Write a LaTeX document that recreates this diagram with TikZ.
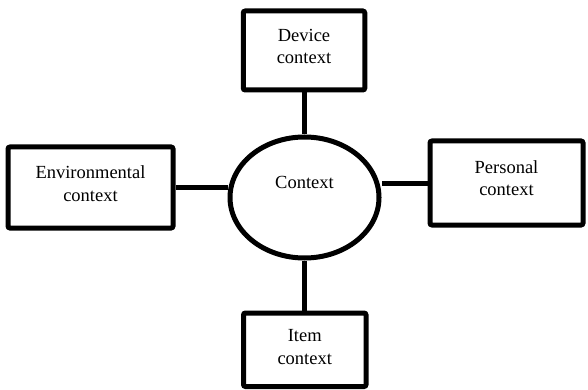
\documentclass[tikz,border=0pt]{standalone}
\usepackage{fontspec}
\setmainfont{Liberation Serif}
\usepackage{tikz}
\usetikzlibrary{positioning, calc, shapes.geometric}

\begin{document}
\begin{tikzpicture}[
    x=1pt, y=-1pt,
    ctxbox/.style={draw, line width=5pt, rounded corners=2pt, align=center,
                   inner sep=0pt, text depth=8pt, font=\fontsize{18.5}{22.5}\selectfont},
    ctxoval/.style={draw, ellipse, line width=5pt, inner sep=0pt,
                    minimum width=149pt, minimum height=121pt},
    link/.style={line width=5pt},
    mylabel/.style={font=\fontsize{18.5}{22.5}\selectfont},
  ]
    \useasboundingbox (0,0) rectangle (588,390);

    % Centre
    \node[ctxoval] (ctx) at (304.5,197.5) {};
    \node[mylabel] (ctxtext) at (304.5,182.5) {Context};

    % Boxes
    \node[ctxbox, minimum width=121.5pt, minimum height=79pt] (dev) at (304,50.5) {Device\\context};
    \node[ctxbox, minimum width=165pt, minimum height=81pt] (env) at (90.5,187.5) {Environmental\\context};
    \node[ctxbox, minimum width=153pt, minimum height=84pt, text depth=10pt] (pers) at (506.5,183) {Personal\\context};
    \node[ctxbox, minimum width=122.5pt, minimum height=73.5pt, text depth=6pt] (item) at (304.75,349.75) {Item\\context};

    % Connectors
    \draw[link] (dev.south) -- (dev.south |- ctx.north);
    \draw[link] (item.north) -- (item.north |- ctx.south);
    \draw[link] (env.east) -- (env.east -| ctx.west);
    \draw[link] (pers.west) -- (pers.west -| ctx.east);
  \end{tikzpicture}
\end{document}
